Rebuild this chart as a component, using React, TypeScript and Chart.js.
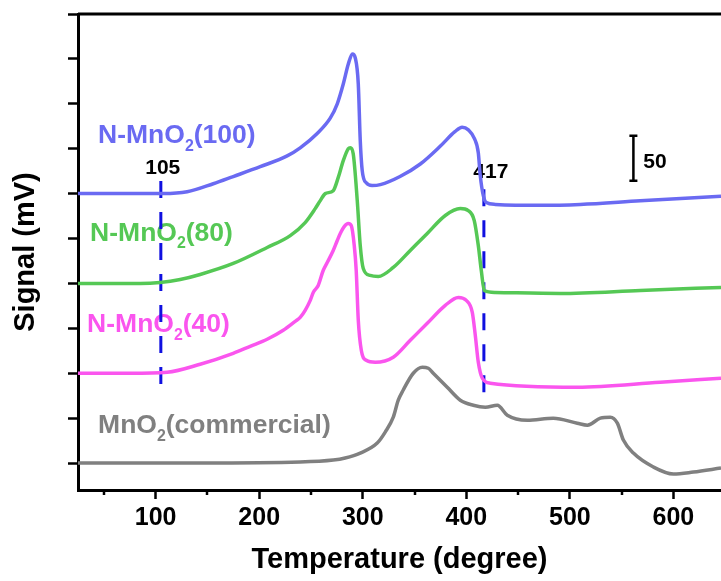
import React, { useEffect, useRef } from "react";
import { Chart, registerables } from "chart.js";

Chart.register(...registerables);

const FONT = '"Liberation Sans", Arial, Helvetica, sans-serif';

// ---- axis ticks ----
const X_TICKS = [100, 200, 300, 400, 500, 600];
const X_MINOR_TICKS = [50, 150, 250, 350, 450, 550];
const Y_TICKS = [0, 50, 100, 150, 200, 250, 300, 350, 400, 450, 500];

// ---- N-MnO2(100) (blue) ----
const blueT = [25, 80, 107.2, 130.4, 155.6, 174.9, 201, 227, 239.6, 256, 268.6, 275.4, 281.2, 286, 290, 292.8, 295.7, 297.6, 299.5, 303.4, 309, 317, 336, 355.6, 375, 389, 396, 402, 408, 411.6, 413.5, 416.4, 419.3, 428, 471.5, 510, 568, 646];
const blueS = [300, 300, 300, 302, 311, 319, 330, 342, 351, 367, 384, 400, 422, 444, 455.6, 451, 422, 359, 325.6, 312, 309, 310, 319, 333, 353, 369, 374, 371, 361, 345.6, 320, 298, 290, 288, 287, 288, 292, 297];

// ---- N-MnO2(80) (green) ----
const greenT = [25, 85, 104.3, 123.7, 143, 174.9, 207.7, 230, 244.4, 254.1, 259, 263.8, 271.5, 276.3, 281.2, 286, 288, 290.8, 294.7, 297.6, 300.5, 307.2, 315, 329.5, 345.9, 362.3, 379.7, 394.2, 401.9, 407.7, 411.6, 414.5, 417.4, 428, 490.8, 568.1, 646];
const greenS = [200, 200, 201.1, 204.4, 210, 222.2, 240, 253.3, 267.8, 283.3, 292.2, 300, 303.3, 317.8, 336.7, 350, 351.1, 344.4, 292.2, 242.2, 216.7, 208.9, 207.8, 217.8, 236.7, 255.6, 275.6, 283.3, 281.1, 270, 242.2, 214.4, 192.2, 190, 188.9, 192.2, 195.6];

// ---- N-MnO2(40) (magenta) ----
const magentaT = [25, 75.4, 111.1, 143, 174.9, 191.3, 207.7, 223.2, 234.8, 239.6, 244.4, 249.3, 252.2, 257, 261.8, 265.7, 271.5, 275.4, 278.3, 282.1, 286, 288.9, 291.8, 293.7, 295.7, 298.6, 303.4, 312.1, 329.5, 345.9, 362.3, 379.7, 392.3, 400, 405.8, 408.7, 411.6, 415.5, 423.2, 507.2, 587.4, 646];
const magentaS = [100, 100, 101.1, 110, 122.2, 130, 137.8, 147.8, 157.8, 162.2, 170, 181.1, 190, 197.8, 214.4, 223.3, 236.7, 247.8, 255.6, 263.3, 266.7, 264.4, 242.2, 214.4, 158.9, 125.6, 114.4, 112.2, 117.8, 136.7, 155.6, 175.6, 184.4, 181.1, 167.8, 142.2, 112.2, 94.4, 88.9, 84.4, 90, 94.4];

// ---- MnO2(commercial) (gray) ----
const grayT = [25, 143, 239.6, 271.5, 283, 297.6, 314, 321.7, 329.5, 334.3, 339, 348.8, 357.5, 363.3, 368.1, 381.6, 394.2, 406.8, 418.4, 430, 439.6, 459, 484, 507.2, 517, 529.5, 539.1, 545.9, 551.7, 561.4, 580.7, 600, 619.3, 646];
const grayS = [0, 0, 1.1, 3.3, 5.6, 11.1, 22.2, 34.4, 51.1, 70, 81.1, 100, 106.7, 105.6, 100, 84.4, 70, 64.4, 62.2, 64.4, 53.3, 47.8, 50, 44.4, 42.2, 50, 51.1, 44.4, 25.6, 11.1, -4.4, -12.2, -10, -5.6];

// ---- dashed marker lines ----
const marker105T = [105, 105];
const marker105S = [314, 83];
const marker417T = [417, 417];
const marker417S = [305, 73];

// ---- scale bar (50 units) ----
const scaleBarT = 561.4;
const scaleBarS = [314.4, 364.4];

const BLUE = "#6a6af2";
const GREEN = "#55c855";
const MAGENTA = "#fa55ee";
const GRAY = "#808080";
const DASH = "#1010e0";

type Part = { t: string; sub?: boolean };
const TEXTS: { parts: Part[]; x: number; y: number; size: number; color: string }[] = [
  { parts: [{ t: "N-MnO" }, { t: "2", sub: true }, { t: "(100)" }], x: 44.4, y: 356.7, size: 26.5, color: BLUE },
  { parts: [{ t: "N-MnO" }, { t: "2", sub: true }, { t: "(80)" }], x: 36.7, y: 247.8, size: 26.5, color: GREEN },
  { parts: [{ t: "N-MnO" }, { t: "2", sub: true }, { t: "(40)" }], x: 33.8, y: 145.6, size: 26.5, color: MAGENTA },
  { parts: [{ t: "MnO" }, { t: "2", sub: true }, { t: "(commercial)" }], x: 44.4, y: 33.3, size: 26.5, color: GRAY },
  { parts: [{ t: "105" }], x: 89.9, y: 322.2, size: 21, color: "#000" },
  { parts: [{ t: "417" }], x: 406.8, y: 317.8, size: 21, color: "#000" },
  { parts: [{ t: "50" }], x: 571, y: 328.9, size: 21, color: "#000" },
];

function pts(t: number[], s: number[]) {
  return t.map((v, i) => ({ x: v, y: s[i] }));
}

function drawRich(ctx: CanvasRenderingContext2D, parts: Part[], x: number, y: number, size: number, color: string) {
  ctx.fillStyle = color;
  ctx.textAlign = "left";
  ctx.textBaseline = "alphabetic";
  let cx = x;
  for (const p of parts) {
    const s = p.sub ? size * 0.6 : size;
    ctx.font = `bold ${s}px ${FONT}`;
    ctx.fillText(p.t, cx, p.sub ? y + size * 0.3 : y);
    cx += ctx.measureText(p.t).width;
  }
}

const decorPlugin = {
  id: "decor",
  beforeDatasetsDraw(chart: any) {
    const ctx = chart.ctx as CanvasRenderingContext2D;
    const xs = chart.scales.x;
    const ys = chart.scales.y;
    ctx.save();
    for (const tx of TEXTS) {
      drawRich(ctx, tx.parts, xs.getPixelForValue(tx.x), ys.getPixelForValue(tx.y), tx.size, tx.color);
    }
    ctx.restore();
  },
  afterDraw(chart: any) {
    const ctx = chart.ctx as CanvasRenderingContext2D;
    const xs = chart.scales.x;
    const ys = chart.scales.y;
    const area = chart.chartArea;
    ctx.save();
    ctx.strokeStyle = "#000";
    // top border
    ctx.lineWidth = 3;
    ctx.beginPath();
    ctx.moveTo(area.left, area.top);
    ctx.lineTo(area.right, area.top);
    ctx.stroke();
    // minor x ticks
    ctx.lineWidth = 2.5;
    for (const v of X_MINOR_TICKS) {
      const px = Math.round(xs.getPixelForValue(v));
      ctx.beginPath();
      ctx.moveTo(px, area.bottom);
      ctx.lineTo(px, area.bottom + 5);
      ctx.stroke();
    }
    // scale bar
    const bx = xs.getPixelForValue(scaleBarT);
    const by1 = ys.getPixelForValue(scaleBarS[0]);
    const by2 = ys.getPixelForValue(scaleBarS[1]);
    ctx.lineWidth = 2.5;
    ctx.beginPath();
    ctx.moveTo(bx, by1);
    ctx.lineTo(bx, by2);
    ctx.moveTo(bx - 4, by1);
    ctx.lineTo(bx + 4, by1);
    ctx.moveTo(bx - 4, by2);
    ctx.lineTo(bx + 4, by2);
    ctx.stroke();
    ctx.restore();
  },
};

export default function App() {
  const ref = useRef<HTMLCanvasElement | null>(null);
  useEffect(() => {
    if (!ref.current) return;
    const line = (data: any[], color: string, extra: any = {}) => ({
      data,
      borderColor: color,
      backgroundColor: color,
      borderWidth: 3.5,
      pointRadius: 0,
      tension: 0,
      cubicInterpolationMode: "monotone",
      fill: false,
      ...extra,
    });
    const chart = new Chart(ref.current, {
      type: "line",
      data: {
        datasets: [
          line(pts(grayT, grayS), GRAY),
          line(pts(magentaT, magentaS), MAGENTA),
          line(pts(greenT, greenS), GREEN),
          line(pts(blueT, blueS), BLUE),
          line(pts(marker105T, marker105S), DASH, { borderDash: [17, 14], borderWidth: 3, cubicInterpolationMode: "default" }),
          line(pts(marker417T, marker417S), DASH, { borderDash: [17, 14], borderWidth: 3, cubicInterpolationMode: "default" }),
        ],
      },
      options: {
        animation: false,
        responsive: false,
        devicePixelRatio: 1,
        layout: { padding: { top: 14, left: 0, right: 0, bottom: 0 } },
        plugins: { legend: { display: false }, tooltip: { enabled: false } },
        scales: {
          x: {
            type: "linear",
            min: 25,
            max: 646,
            afterBuildTicks: (s: any) => {
              s.ticks = X_TICKS.map((v) => ({ value: v }));
            },
            afterFit: (s: any) => {
              s.height = 91;
            },
            grid: { drawOnChartArea: false, drawTicks: true, tickLength: 9, tickWidth: 2.5, tickColor: "#000" },
            border: { display: true, color: "#000", width: 3 },
            ticks: {
              color: "#000",
              font: { family: FONT, size: 25, weight: "bold" },
              padding: 4,
              maxRotation: 0,
              autoSkip: false,
            },
            title: {
              display: true,
              text: "Temperature (degree)",
              color: "#000",
              font: { family: FONT, size: 29, weight: "bold" },
              padding: { top: 4, bottom: 4 },
            },
          },
          y: {
            type: "linear",
            min: -30,
            max: 500,
            afterBuildTicks: (s: any) => {
              s.ticks = Y_TICKS.map((v) => ({ value: v }));
            },
            afterFit: (s: any) => {
              s.width = 78;
            },
            grid: { drawOnChartArea: false, drawTicks: true, tickLength: 10, tickWidth: 2.5, tickColor: "#000" },
            border: { display: true, color: "#000", width: 3 },
            ticks: { display: false },
            title: {
              display: true,
              text: "Signal (mV)",
              color: "#000",
              font: { family: FONT, size: 29, weight: "bold" },
              padding: { top: 9, bottom: 9 },
            },
          },
        },
      },
      plugins: [decorPlugin],
    } as any);
    return () => chart.destroy();
  }, []);
  return (
    <div style={{ position: "absolute", left: 0, top: 0, width: 721, height: 581, background: "#fff" }}>
      <canvas ref={ref} width={721} height={581} style={{ display: "block" }} />
    </div>
  );
}
